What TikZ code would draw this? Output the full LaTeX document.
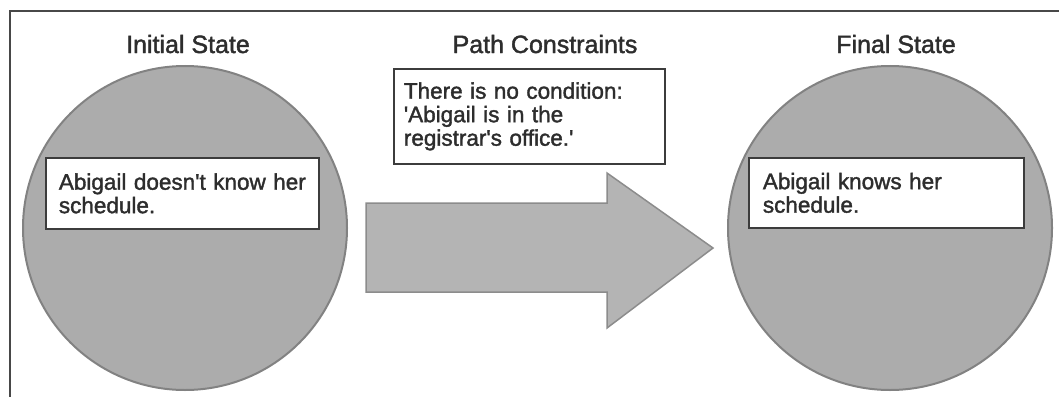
\documentclass[tikz,border=0pt]{standalone}
\usepackage{fontspec}
\setmainfont{Liberation Sans}[BoldFont={Liberation Sans},BoldFeatures={FakeBold=1.6}]
\definecolor{framegray}{RGB}{72,72,72}
\definecolor{textgray}{RGB}{45,45,45}
\definecolor{discfill}{RGB}{172,172,172}
\definecolor{discedge}{RGB}{130,130,130}
\definecolor{arrowfill}{RGB}{180,180,180}
\definecolor{arrowedge}{RGB}{140,140,140}
\definecolor{boxedge}{RGB}{60,60,60}
\newcommand{\sq}{\textquotesingle}
\begin{document}
\begin{tikzpicture}[x=1pt,y=-1pt,
  frameline/.style={draw=framegray,line width=2pt},
  disc/.style={circle,draw=discedge,fill=discfill,line width=2pt,
    minimum size=324pt,inner sep=0pt},
  heading/.style={font=\fontsize{25}{28}\selectfont\bfseries,text=textgray,
    anchor=base,inner sep=0pt},
  note/.style={draw=boxedge,fill=white,line width=1.8pt,anchor=north west,
    align=left,font=\fontsize{22.5}{23.5}\selectfont\bfseries,text=textgray,
    inner ysep=0pt},
  bigarrow/.style={draw=arrowedge,fill=arrowfill,line width=1.5pt,line join=miter},
]
\useasboundingbox (0,0) rectangle (1059,396);

% outer frame: top and left rules only
\draw[frameline] (10,397) -- (10,11) -- (1060,11);

% column headings
\node[heading] (hInit)  at (188,53) {Initial State};
\node[heading] (hPath)  at (545,53) {Path Constraints};
\node[heading] (hFinal) at (896,53) {Final State};

% state discs
\node[disc] (initial) at (185,228) {};
\node[disc] (final)   at (890,228) {};

% transition arrow
\draw[bigarrow] (366,203) -- (607,203) -- (607,173) -- (713,248)
  -- (607,328) -- (607,292) -- (366,292) -- cycle;

% text boxes
\node[note,minimum width=273pt,minimum height=71pt,inner xsep=13pt,
  text width=247pt] (initText) at (45,157)
  {Abigail doesn\sq t know her\\schedule.};
\node[note,minimum width=271pt,minimum height=95pt,inner xsep=10pt,
  text width=251pt] (pathText) at (393,68)
  {There is no condition:\\\sq Abigail is in the\\registrar\sq s office.\sq};
\node[note,minimum width=275pt,minimum height=70pt,inner xsep=14pt,
  text width=247pt] (finalText) at (748,157)
  {Abigail knows her\\schedule.};
\end{tikzpicture}
\end{document}
